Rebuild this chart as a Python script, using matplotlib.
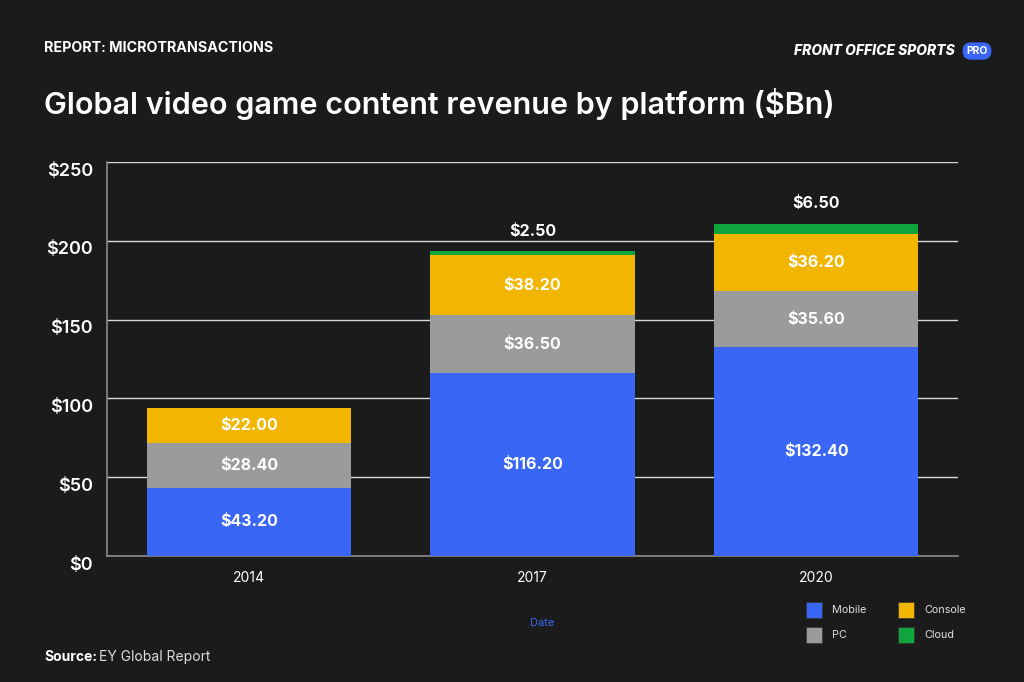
"""Global video game content revenue by platform - stacked bars."""
import matplotlib.pyplot as plt
import matplotlib.patches as mpatches
from matplotlib.transforms import ScaledTranslation
import numpy as np

years = ['2014', '2017', '2020']
mobile = [43.2, 116.2, 132.4]
pc = [28.4, 36.5, 35.6]
console = [22.0, 38.2, 36.2]
cloud = [0.0, 2.5, 6.5]

series = [('Mobile', mobile, '#3a66f5'),
          ('PC', pc, '#9b9b9b'),
          ('Console', console, '#f2b600'),
          ('Cloud', cloud, '#10a53c')]

BG = '#1b1b1b'
plt.rcParams['font.family'] = ['Inter', 'DejaVu Sans']

fig = plt.figure(figsize=(10.24, 6.82), dpi=100)
fig.patch.set_facecolor(BG)
W, H = 1024, 682
ax = fig.add_axes([107 / W, 1 - 556 / H, (958 - 107) / W, (556 - 162) / H])
ax.set_facecolor(BG)

x = np.arange(len(years))
bottom = np.zeros(len(years))
for name, vals, col in series:
    vals = np.array(vals)
    ax.bar(x, vals, 0.72, bottom=bottom, color=col, zorder=3)
    for i, v in enumerate(vals):
        if v <= 0:
            continue
        if name == 'Cloud':
            ax.text(x[i], bottom[i] + v + 8, f'${v:.2f}', ha='center', va='bottom',
                    color='white', fontsize=11.5, fontweight='bold', zorder=4)
        else:
            ax.text(x[i], bottom[i] + v / 2, f'${v:.2f}', ha='center', va='center',
                    color='white', fontsize=11.5, fontweight='bold', zorder=4)
    bottom += vals

ax.set_xlim(-0.5, 2.5)
ax.set_ylim(0, 250)
ax.set_yticks([0, 50, 100, 150, 200, 250])
ax.set_yticklabels([f'${v}' for v in [0, 50, 100, 150, 200, 250]])
ax.set_xticks(x)
ax.set_xticklabels(years)
ax.grid(axis='y', color='#d8d8d8', lw=1, zorder=1)
for s in ['top', 'right']:
    ax.spines[s].set_visible(False)
for s in ['left', 'bottom']:
    ax.spines[s].set_color('#8a8a8a')
    ax.spines[s].set_linewidth(1.2)
ax.tick_params(axis='y', length=0, pad=10, labelcolor='white', labelsize=13)
ax.tick_params(axis='x', length=0, pad=11, labelcolor='white', labelsize=10)
shift = ScaledTranslation(0, -7 / 100, fig.dpi_scale_trans)
for lab in ax.get_yticklabels():
    lab.set_fontweight('semibold')
    lab.set_transform(lab.get_transform() + shift)

# header / footer texts
fig.text(44 / W, 1 - 48 / H, 'REPORT: MICROTRANSACTIONS', color='white',
         fontsize=10.3, fontweight='bold', va='center')
fig.text(44 / W, 1 - 104 / H, 'Global video game content revenue by platform ($Bn)',
         color='white', fontsize=22, fontweight='semibold', va='center')
fig.text(955 / W, 1 - 51 / H, 'FRONT OFFICE SPORTS', color='white', fontsize=10,
         fontweight='heavy', style='italic', ha='right', va='center')
fig.text(977 / W, 1 - 51 / H, 'PRO', color='white', fontsize=7.5, fontweight='bold',
         ha='center', va='center',
         bbox=dict(boxstyle='round,pad=0.35,rounding_size=0.8', facecolor='#3a66f5',
                   edgecolor='none'))
fig.text(44 / W, 1 - 657 / H, 'Source:', color='white', fontsize=10,
         fontweight='bold', va='center')
fig.text(99 / W, 1 - 657 / H, 'EY Global Report', color='#dddddd', fontsize=10,
         va='center')
fig.text(542 / W, 1 - 623 / H, 'Date', color='#3a66f5', fontsize=8,
         ha='center', va='center')

# legend
leg_pos = [(806, 610), (806, 635), (898, 610), (898, 635)]
for (lx, ly), (name, _, col) in zip(leg_pos, series):
    fig.patches.append(mpatches.Rectangle((lx / W, 1 - (ly + 8) / H), 16 / W, 16 / H,
                                          transform=fig.transFigure, facecolor=col,
                                          edgecolor='#333333', lw=0.5))
    fig.text((lx + 26) / W, 1 - ly / H, name, color='#dddddd', fontsize=7.8,
             va='center')

fig.savefig('out.png', dpi=100, facecolor=BG)
